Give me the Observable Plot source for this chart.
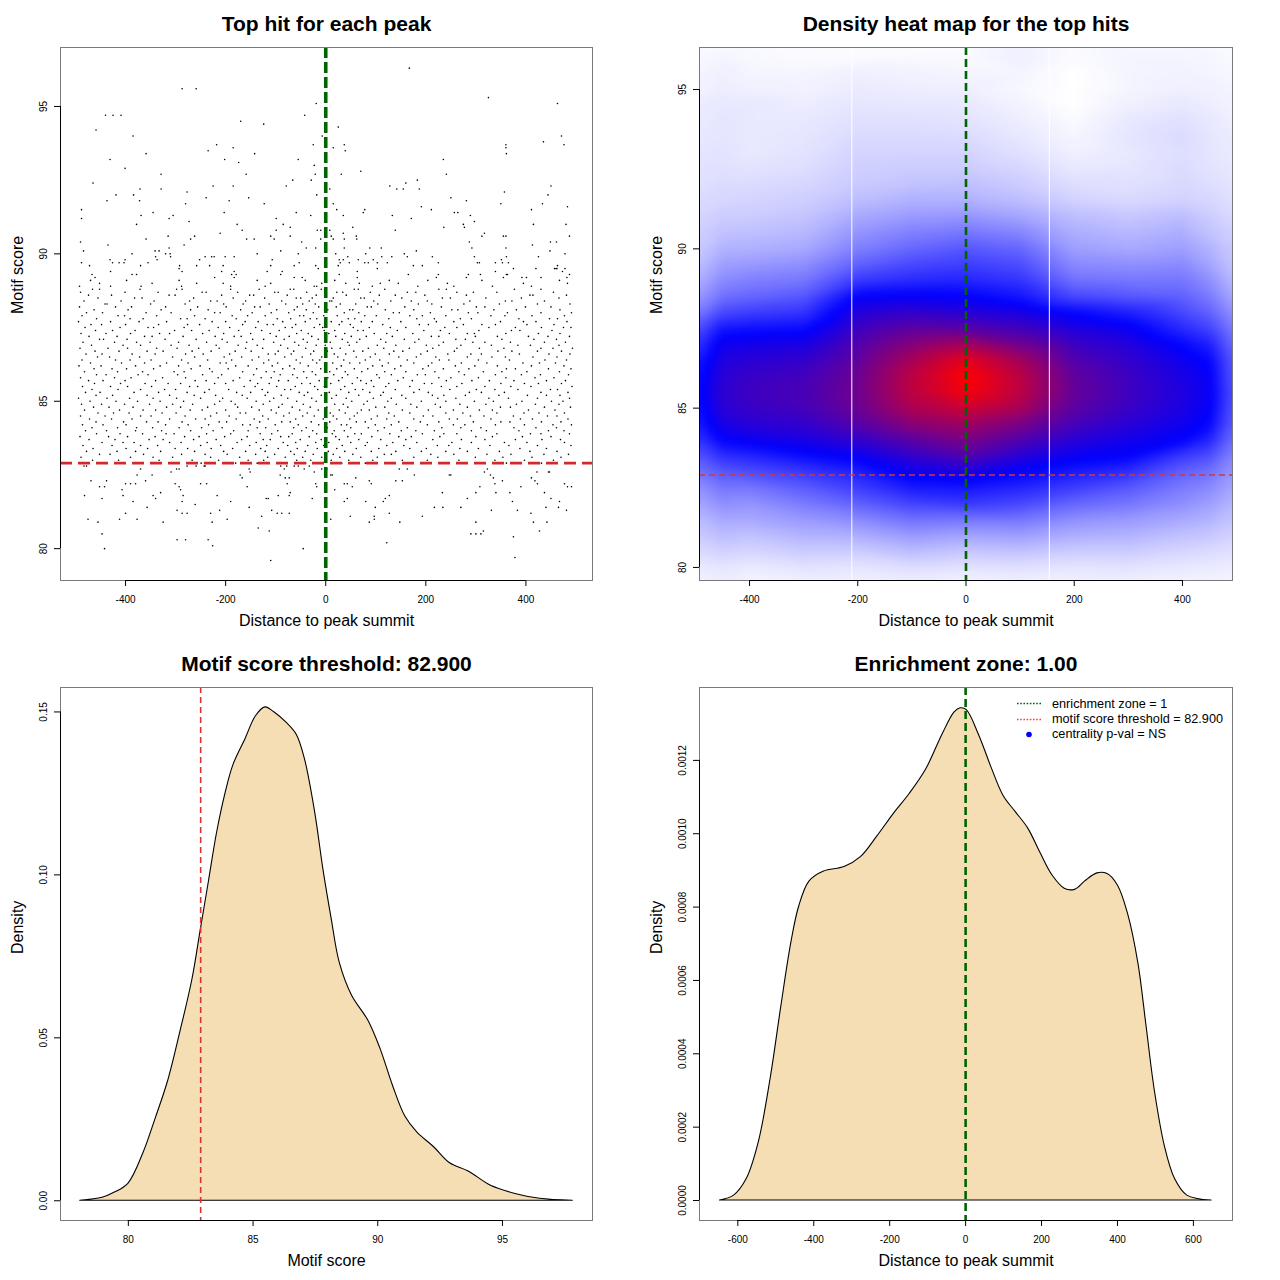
<!DOCTYPE html>
<html><head><meta charset="utf-8">
<script src="https://cdn.jsdelivr.net/npm/d3@7"></script>
<script src="https://cdn.jsdelivr.net/npm/@observablehq/plot@0.6"></script>
<style>
body{margin:0;background:#fff;}
#wrap{position:relative;width:1280px;height:1280px;background:#fff;font-family:"Liberation Sans",Arial,Helvetica,sans-serif;}
#legend{position:absolute;left:1015px;top:696px;font-size:12.7px;color:#000;}
#legend .row{display:flex;align-items:center;height:15.4px;white-space:nowrap;}
#legend svg{flex:none;}
</style></head><body><div id="wrap"><div id="legend"></div></div>
<script>
// ---------- Panel 1: top hit per peak (motif score rows, distances to summit) ----------
const hitScores = [96.3,95.6,95.3,95.1,94.7,94.5,94.4,94.3,94.2,94.0,93.8,93.7,93.6,93.5,93.4,93.2,93.1,93.0,92.9,92.8,92.7,92.5,92.4,92.3,92.2,92.1,92.0,91.9,91.8,91.7,91.6,91.5,91.4,91.3,91.2,91.1,91.0,90.9,90.8,90.7,90.6,90.5,90.4,90.3,90.2,90.1,90.0,89.9,89.8,89.7,89.6,89.5,89.4,89.3,89.2,89.1,89.0,88.9,
88.8,88.7,88.6,88.5,88.4,88.3,88.2,88.1,88.0,87.9,87.8,87.7,87.6,87.5,87.4,87.3,87.2,87.1,87.0,86.9,86.8,86.7,86.6,86.5,86.4,86.3,86.2,86.1,86.0,85.9,85.8,85.7,85.6,85.5,85.4,85.3,85.2,85.1,85.0,84.9,84.8,84.7,84.6,84.5,84.4,84.3,84.2,84.1,84.0,83.9,83.8,83.7,83.6,83.5,83.4,83.3,83.2,83.1,83.0,82.9,
82.8,82.7,82.6,82.5,82.4,82.3,82.2,82.1,82.0,81.9,81.8,81.7,81.6,81.5,81.4,81.3,81.2,81.1,81.0,80.9,80.7,80.6,80.5,80.4,80.3,80.2,80.1,80.0,79.7,79.6];
const hitDistances = [
"167","-287 -259","325","-19 463","-440 -425 -409 -42","-170","-124","25","-459","-385 -7 471","435","-218 -25 37 360 476","-185 15 360","-235 39","-359 -142 361","-431 -202 -55 235","-174","-23","-401","70","-329 -159 -21 31 241","-66 -29 183","-465 160","-225 -185 -79 128 450","-371 -329 8 142 155 187","-277 357","-419 -384 -18 444","-239 -154 250","-437 -372 -193 281","-280 -123 15 350 433","191 483","-488 22 78 211 411","-345 -203 -59 75 257 264","-369 -305 -30 35 133 289","-488 -313 -99 171","-273 297","-378 -177 -85 275 415 480","-71 54 236 277","-167 -99 -17 -10 8 139","-211 35 317","-315 -262 -110 -71 11 61 312 355 360 487","-359 -270 -158 -143 -103 -10 15 37 62","-490 -48 287 449 461","-435 -283 413","-313 -39 -20 37 88 111 292 360","-484 -341 -333 -90 181 448","-387 -320 -311 -137 -55 20 80 157 478","-340 -310 -241 -228 -223 -201 -183 44 112 132 163 213 297 361 425","-431 -401 -337 -252 -107 27 35 65 95 351","-488 -426 -413 -403 -355 -53 29 47 78 85 103 123 225 303 307 339 353 365","-472 -370 -292 -258 -232 -205 -110 -63 -20 25 175 193 463","-293 -15 103 375 420 457 460 462 478","-430 -287 -208 -183 -117 -87 63 339 473","-467 -387 -378 -188 -179 -90 27 165 225 285 309 361 363 487","-461 -222 -183 -63 -47 63 221 281 355 392 401 430 482","-470 -398 -293 -137 -41 18 127 204 312 467","-452 -347 -258 -205 -110 -8 40 67 109 145 243 395 483","-492 -430 -369 -288 -190 -121 -23 -18 93 184 256 333 411",
"-466 -452 -371 -298 -287 -190 -133 -71 -64 -9 57 65 118 226 241 377 430",
"-490 -401 -335 -247 -239 -176 -102 -95 -38 22 34 89 163 180 262 295 342 455",
"-474 -428 -313 -301 -208 -152 -144 -77 -19 -2 41 107 139 198 281 408 414 481",
"-455 -382 -367 -264 -185 -122 -59 -50 -27 15 70 77 152 233 249 320 391 466",
"-483 -409 -343 -272 -230 -217 -160 -88 -33 8 12 96 130 171 203 288 359 372 437",
"-441 -437 -350 -281 -204 -165 -113 -80 -46 -21 29 60 104 185 212 276 347 423 488",
"-492 -420 -388 -320 -256 -199 -142 -131 -57 -14 21 83 91 158 231 301 318 399 450",
"-463 -395 -329 -270 -235 -170 -98 -63 -39 4 48 54 119 176 252 264 336 381 468",
"-478 -446 -359 -309 -222 -211 -147 -109 -74 -25 37 66 135 147 209 285 304 363 430 491",
"-487 -415 -402 -338 -262 -187 -156 -121 -52 -44 -4 23 78 101 168 193 240 330 358 412 477",
"-458 -391 -365 -290 -277 -241 -179 -97 -70 -31 -18 45 58 126 182 217 269 291 386 447 463",
"-494 -430 -373 -318 -227 -200 -161 -135 -86 -41 11 32 71 93 150 221 256 349 395 420 482",
"-469 -448 -400 -334 -276 -252 -166 -117 -105 -60 -12 27 49 114 187 205 275 312 339 402 456",
"-481 -411 -355 -344 -283 -215 -192 -140 -81 -67 -23 -6 55 87 129 160 238 262 326 379 431 475 490",
"-460 -426 -381 -302 -268 -233 -174 -128 -93 -49 -3 18 64 75 143 196 229 306 371 388 452",
"-489 -439 -390 -332 -312 -246 -204 -150 -111 -58 -35 6 38 97 122 174 247 283 297 360 425 468",
"-473 -417 -362 -347 -285 -221 -183 -169 -99 -73 -28 20 51 81 133 211 226 299 343 405 444 487",
"-452 -444 -397 -321 -259 -207 -146 -124 -83 -45 -15 33 68 110 157 186 260 279 352 416 461",
"-485 -422 -378 -351 -294 -238 -197 -158 -104 -62 -37 9 44 62 120 178 235 294 318 369 437 479",
"-468 -405 -370 -309 -273 -219 -175 -137 -90 -54 -19 -1 47 103 140 201 226 270 331 384 409 466",
"-491 -435 -396 -338 -297 -254 -213 -160 -126 -76 -40 12 29 85 116 167 214 262 307 356 430 454 493",
"-461 -413 -357 -325 -267 -229 -181 -149 -95 -64 -24 3 56 74 136 154 203 257 344 372 423 471",
"-479 -447 -387 -341 -280 -245 -192 -115 -101 -69 -30 17 40 99 127 190 244 290 311 387 446 488",
"-456 -432 -372 -306 -262 -203 -168 -134 -82 -47 -8 24 61 89 146 181 220 283 332 359 414 462",
"-487 -420 -391 -349 -288 -236 -188 -147 -114 -59 -26 -12 36 79 108 163 227 246 305 367 438 481",
"-470 -408 -362 -318 -275 -211 -199 -124 -96 -51 -18 14 48 68 125 176 212 271 322 394 427 459",
"-493 -449 -380 -331 -294 -251 -180 -155 -107 -72 -35 1 31 94 113 150 205 259 298 343 411 476",
"-463 -427 -398 -344 -269 -232 -195 -138 -86 -63 -10 22 57 84 138 194 235 286 361 379 445 490",
"-482 -416 -366 -303 -283 -227 -166 -119 -103 -44 -27 8 39 72 118 160 218 266 315 352 402 467",
"-458 -439 -375 -355 -296 -246 -208 -144 -91 -66 -20 16 44 102 131 183 199 277 339 391 429 485",
"-490 -422 -389 -326 -280 -215 -172 -129 -109 -57 -38 4 33 63 107 155 226 250 305 360 418 456",
"-474 -445 -401 -340 -261 -239 -185 -151 -94 -75 -13 26 70 91 144 173 241 292 327 376 441 479",
"-462 -410 -361 -315 -290 -222 -200 -136 -113 -48 -31 10 53 81 126 197 212 272 350 397 425 471",
"-486 -430 -396 -348 -272 -256 -163 -141 -98 -61 -22 -3 38 96 120 168 231 262 318 370 410 492",
"-467 -415 -370 -322 -300 -233 -194 -127 -82 -70 -16 30 59 74 139 187 248 301 338 384 449 463",
"-480 -451 -383 -334 -277 -242 -178 -150 -116 -53 -36 7 46 88 115 176 205 287 311 357 430 484",
"-459 -426 -357 -312 -263 -220 -167 -121 -89 -43 -9 21 66 110 152 213 236 279 346 403 441 468",
"-494 -437 -392 -345 -298 -250 -206 -157 -104 -76 -28 12 41 95 131 160 224 260 326 365 423 487",
"-471 -419 -376 -331 -284 -212 -189 -139 -112 -58 -19 -2 52 83 124 191 240 297 335 392 451 474",
"-488 -448 -402 -352 -306 -266 -222 -181 -125 -87 -45 18 35 76 141 170 219 268 320 381 419 466",
"-464 -433 -385 -318 -290 -236 -176 -148 -94 -67 -31 2 44 100 118 182 229 283 349 369 437 489",
"-482 -412 -365 -340 -271 -247 -200 -133 -109 -52 -15 27 71 87 153 205 255 307 333 405 458",
"-455 -424 -393 -327 -299 -218 -171 -160 -99 -73 -37 9 39 63 126 168 240 274 342 396 426 477",
"-490 -441 -370 -349 -281 -230 -193 -126 -84 -46 -23 15 57 103 137 195 214 289 316 375 443 462",
"-472 -428 -387 -312 -260 -241 -179 -143 -115 -60 -5 22 48 91 122 176 247 263 330 389 413 484",
"-459 -404 -358 -335 -287 -213 -198 -132 -88 -71 -29 8 61 79 146 189 226 295 350 368 431 470",
"-486 -445 -399 -320 -275 -234 -166 -151 -101 -55 -14 31 42 99 131 203 255 278 339 397 454 491",
"-467 -416 -378 -346 -293 -248 -207 -137 -120 -64 -39 3 50 85 117 163 232 270 310 376 420 461",
"-480 -438 -380 -328 -270 -225 -184 -155 -96 -48 -26 17 37 104 151 180 217 291 321 386 445 476",
"-458 -411 -366 -319 -303 -238 -190 -131 -108 -67 -18 13 58 71 128 193 236 262 342 409 430 487",
"-491 -434 -396 -341 -282 -253 -202 -157 -90 -74 -33 20 44 92 146 171 228 300 333 393 450",
"-473 -421 -353 -325 -264 -219 -168 -125 -111 -51 -9 27 66 110 160 214 271 318 379 432 469",
"-447 -405 -383 -312 -289 -237 -177 -139 -85 -60 -20 6 50 83 134 182 252 291 357 402 477",
"-485 -427 -370 -336 -250 -210 -152 -118 -76 -36 -4 33 79 122 156 223 246 328 366 423 490",
"-465 -399 -356 -301 -276 -229 -186 -130 -95 -57 -17 22 61 106 168 201 268 305 388 441",
"-478 -417 -380 -330 -262 -204 -160 -121 -70 -41 5 38 91 140 191 240 283 347 408 462",
"-452 -431 -364 -288 -241 -197 -140 -102 -63 -25 15 54 117 131 210 256 322 370 436 485",
"-489 -390 -345 -306 -230 -172 -116 -81 -46 -8 28 70 103 176 224 299 354 412 470",
"-466 -414 -333 -267 -214 -155 -124 -58 -30 11 46 94 153 203 266 338 397 455",
"-476 -384 -311 -249 -180 -137 -92 -40 -17 32 79 160 229 280 361 431 488",
"-483 -478 -277 -259 -243 -241 -90 -78 -63 -55 -33","-370 -298 -293 -153 -83 -43 -8 2 147 163 323","-309 -151 -23 317 422 445 447","-377 -347 -171 -91 10 13 177 247 250 329","-167 -81 -73 60 335 411","-469 -438 -360 87 140 153 353 418","-400 -390 -380 -301 -250 -238 -77 -20 37 43 91 338 423 477","-452 -442 -293 -157 -18 53 308 390 483 491","-407 -290 18","-330 -71 233 300 340 368 437","-482 -405 -345 -285 -217 -95 -73 127","-447 -340 -119 -115 -27 43 119 283 450","-385 -287 -190 37 80 115 373 467","-261","-357 -153 99 217 234 270 440 465","-297 -212 -108 331 383 481","-400 -287 -277 -230 -97 -88 -73 127 410","-128 49 97 193","-475 -412 -377 -197 10 97","-455 -325 -227 87 148 300 415 442","-135","-113 315 427","-447 290 300 310","375","-297 -280 -235","122","-226","-442 -45","378","-110"];

const scoreThreshold = 82.9;
const enrichmentCenter = 0;

// ---------- Panel 2: density heat map levels (0 = white, 0.5 = blue, 1 = red) ----------
const heatX = [-500,-450,-400,-300,-200,-100,0,100,200,300,400,450,500];
const heatY = [96.5,96,95.5,95,94.5,94,93.5,93,92.5,92,91.5,91,90.5,90,89.5,89,88.5,88,87.5,87,86.5,86,85.5,85,84.5,84,83.5,83,82.5,82,81.5,81,80.5,80,79.5];
const heatLevel = [
[.01,.01,.01,.005,.003,.006,.008,.025,.01,.015,.015,.012,.01],
[.015,.02,.015,.01,.01,.012,.012,.03,.008,.02,.02,.018,.012],
[.02,.03,.02,.02,.03,.025,.02,.02,0,.02,.025,.022,.015],
[.025,.035,.03,.025,.04,.035,.032,.015,0,.02,.03,.028,.02],
[.035,.045,.045,.035,.05,.047,.045,.025,0,.03,.045,.035,.025],
[.04,.05,.045,.045,.06,.06,.055,.035,.01,.045,.06,.045,.03],
[.045,.05,.045,.05,.072,.072,.07,.045,.02,.05,.07,.05,.035],
[.05,.055,.045,.055,.085,.085,.085,.06,.03,.045,.065,.05,.04],
[.055,.06,.055,.065,.095,.1,.1,.08,.045,.05,.07,.055,.045],
[.06,.07,.07,.08,.105,.12,.125,.1,.065,.06,.075,.065,.05],
[.07,.08,.085,.095,.13,.155,.155,.13,.09,.075,.09,.08,.06],
[.08,.1,.1,.115,.17,.2,.21,.18,.13,.11,.13,.1,.07],
[.09,.12,.125,.14,.21,.25,.27,.24,.16,.14,.16,.12,.085],
[.1,.15,.155,.17,.25,.3,.33,.3,.19,.17,.19,.15,.1],
[.12,.19,.2,.22,.31,.36,.38,.35,.23,.22,.23,.18,.11],
[.15,.23,.25,.27,.39,.42,.43,.4,.28,.27,.27,.22,.13],
[.19,.28,.3,.33,.5,.51,.5,.46,.36,.33,.31,.26,.16],
[.25,.36,.38,.4,.57,.6,.58,.55,.49,.44,.36,.31,.2],
[.33,.46,.47,.48,.62,.68,.67,.63,.56,.52,.42,.37,.24],
[.39,.53,.54,.55,.66,.76,.82,.72,.62,.57,.49,.44,.27],
[.44,.56,.58,.6,.69,.83,.95,.82,.66,.6,.53,.49,.3],
[.46,.58,.61,.63,.715,.87,1,.87,.69,.62,.55,.51,.31],
[.47,.59,.62,.645,.72,.87,.98,.87,.7,.625,.56,.515,.32],
[.46,.58,.61,.635,.71,.84,.9,.83,.68,.615,.555,.51,.31],
[.44,.55,.58,.6,.67,.77,.81,.74,.64,.58,.53,.49,.3],
[.39,.5,.52,.55,.6,.68,.74,.66,.58,.54,.5,.43,.27],
[.33,.41,.43,.48,.52,.6,.66,.58,.52,.5,.39,.35,.23],
[.27,.33,.35,.39,.44,.53,.56,.5,.45,.41,.31,.28,.2],
[.21,.27,.27,.32,.38,.45,.46,.43,.38,.33,.26,.23,.17],
[.17,.22,.21,.26,.31,.37,.39,.36,.3,.27,.22,.19,.14],
[.13,.17,.17,.2,.23,.28,.27,.27,.22,.2,.17,.15,.11],
[.1,.13,.12,.15,.16,.2,.18,.19,.16,.15,.12,.11,.085],
[.07,.09,.08,.1,.1,.13,.11,.12,.1,.1,.08,.07,.06],
[.04,.05,.04,.055,.05,.065,.055,.06,.05,.055,.045,.04,.035],
[.02,.03,.02,.025,.025,.03,.02,.025,.025,.025,.02,.02,.015]];
const heatGaps = [-211, 154];

// ---------- Panel 3: motif score density ----------
const scoreGrid = [78.07,78.97,79.46,80.0,80.6,81.1,81.59,82.08,82.57,82.9,83.23,83.56,83.89,84.21,84.7,85.11,85.49,85.85,86.34,86.75,87.08,87.49,87.82,88.15,88.48,88.97,89.62,90.11,90.61,91.1,91.59,92.25,92.9,93.64,94.54,95.52,96.51,97.82];
const scoreDensity = [0,0.0009,0.0025,0.0052,0.0145,0.0253,0.0366,0.0516,0.0679,0.0829,0.0979,0.113,0.1248,0.1336,0.1417,0.1486,0.1514,0.1499,0.1467,0.143,0.1355,0.1192,0.1017,0.0866,0.0729,0.0629,0.0553,0.0466,0.0353,0.0259,0.0209,0.0165,0.0115,0.009,0.0046,0.0021,0.0006,0];

// ---------- Panel 4: distance density ----------
const distGrid = [-647,-610,-577,-545,-513,-486,-459,-438,-411,-373,-319,-276,-233,-190,-147,-104,-61,-29,-13,3,35,68,100,132,165,197,229,261,288,315,347,374,401,428,455,476,498,525,552,584,648];
const distDensity = [0,0.0000133,0.0000578,0.000158,0.000336,0.000525,0.000703,0.000803,0.00087,0.000897,0.000909,0.000936,0.000992,0.001053,0.001109,0.001175,0.00127,0.001331,0.001342,0.001337,0.00127,0.001181,0.001103,0.001059,0.001014,0.000948,0.000886,0.00085,0.000847,0.00087,0.000892,0.00089,0.000859,0.000781,0.000647,0.00048,0.000302,0.000147,0.0000578,0.0000133,0];

const legendLabels = ["enrichment zone = 1","motif score threshold = 82.900","centrality p-val = NS"];
const legendColors = ["#006400","#ff3a3a","#0000ff"];

// ---------- tick values ----------
const distTicks = [-400,-200,0,200,400];
const scoreTicks = [80,85,90,95];
const scoreDensTicks = [0,0.05,0.10,0.15];
const distWideTicks = [-600,-400,-200,0,200,400,600];
const distDensTicks = [0,0.0002,0.0004,0.0006,0.0008,0.0010,0.0012];

// ---------- build tables ----------
const hits = hitScores.flatMap((s, i) => hitDistances[i].split(" ").filter(Boolean).map(d => ({x: +d, y: s})));
const heatCells = heatY.flatMap((y, i) => heatX.map((x, j) => ({x, y, t: heatLevel[i][j]})));
const scoreCurve = scoreGrid.map((x, i) => ({x, y: scoreDensity[i]}));
const distCurve = distGrid.map((x, i) => ({x, y: distDensity[i]}));

const wrap = document.getElementById("wrap");
const FONT = '"Liberation Sans", Arial, Helvetica, sans-serif';
const fmtInt = d => String(d);

function addPanel(o) {
  const marks = [
    ...o.marks,
    Plot.frame({stroke: "#7a7a7a", strokeWidth: 1}),
    Plot.ruleY([o.yDomain[0]], {x1: d3.min(o.xTicks), x2: d3.max(o.xTicks), stroke: "#000", strokeWidth: 1}),
    Plot.ruleX([o.xDomain[0]], {y1: d3.min(o.yTicks), y2: d3.max(o.yTicks), stroke: "#000", strokeWidth: 1}),
    Plot.axisX(o.xTicks, {anchor: "bottom", tickSize: 6, tickPadding: 9, tickFormat: o.xFmt, label: null, fontSize: 10}),
    Plot.axisY(o.yTicks, {anchor: "left", tickSize: 6, tickPadding: 8, tickRotate: -90, tickFormat: o.yFmt, label: null, fontSize: 10}),
    Plot.text([o.title], {text: d => d, frameAnchor: "top", dy: -23, fontSize: 21, fontWeight: "bold", lineAnchor: "middle"}),
    Plot.text([o.xLabel], {text: d => d, frameAnchor: "bottom", dy: 40, fontSize: 16, lineAnchor: "middle"}),
    Plot.text([o.yLabel], {text: d => d, frameAnchor: "left", dx: -43, rotate: -90, fontSize: 16, lineAnchor: "middle"})
  ];
  const svg = Plot.plot({
    width: 640, height: 640,
    marginLeft: o.mL, marginRight: o.mR, marginTop: 47, marginBottom: 60,
    style: {fontFamily: FONT, fontSize: "10px", background: "transparent", color: "#000", overflow: "visible"},
    x: {domain: o.xDomain, label: null},
    y: {domain: o.yDomain, label: null},
    color: o.color,
    marks
  });
  svg.style.position = "absolute";
  svg.style.left = o.left + "px";
  svg.style.top = o.top + "px";
  wrap.appendChild(svg);
}

// Panel 1
addPanel({
  left: 0, top: 0, mL: 60, mR: 48,
  xDomain: [-530, 533], yDomain: [78.92, 97.0],
  xTicks: distTicks, yTicks: scoreTicks, xFmt: fmtInt, yFmt: fmtInt,
  title: "Top hit for each peak", xLabel: "Distance to peak summit", yLabel: "Motif score",
  marks: [
    Plot.dot(hits, {x: "x", y: "y", r: 0.8, fill: "#000"}),
    Plot.ruleY([scoreThreshold], {stroke: "#d02a2a", strokeWidth: 2.6, strokeDasharray: "12,6"}),
    Plot.ruleX([enrichmentCenter], {stroke: "#006400", strokeWidth: 3.6, strokeDasharray: "11,4"})
  ]
});

// Panel 2
const hx = [-492.5, 492.5], hy = [79.59, 96.32];
addPanel({
  left: 640, top: 0, mL: 59, mR: 48,
  xDomain: hx, yDomain: hy,
  xTicks: distTicks, yTicks: scoreTicks, xFmt: fmtInt, yFmt: fmtInt,
  title: "Density heat map for the top hits", xLabel: "Distance to peak summit", yLabel: "Motif score",
  color: {type: "linear", domain: [0, 0.5, 1], range: ["#ffffff", "#0000ff", "#ff0000"], interpolate: "rgb"},
  marks: [
    Plot.raster(heatCells, {x: "x", y: "y", fill: "t", interpolate: "barycentric", blur: 3, x1: hx[0], x2: hx[1], y1: hy[0], y2: hy[1]}),
    Plot.ruleX(heatGaps, {stroke: "#ffffff", strokeWidth: 1}),
    Plot.ruleY([scoreThreshold], {stroke: "#d03a3a", strokeWidth: 1.5, strokeDasharray: "6,4"}),
    Plot.ruleX([enrichmentCenter], {stroke: "#006400", strokeWidth: 2.6, strokeDasharray: "8,4"})
  ]
});

// Panel 3
addPanel({
  left: 0, top: 640, mL: 60, mR: 48,
  xDomain: [77.28, 98.61], yDomain: [-0.00606, 0.1575],
  xTicks: scoreTicks, yTicks: scoreDensTicks, xFmt: fmtInt, yFmt: d => d.toFixed(2),
  title: "Motif score threshold: 82.900", xLabel: "Motif score", yLabel: "Density",
  marks: [
    Plot.areaY(scoreCurve, {x: "x", y: "y", fill: "#f5deb3", stroke: "#000", strokeWidth: 1.1, curve: "catmull-rom"}),
    Plot.ruleX([scoreThreshold], {stroke: "#dd3030", strokeWidth: 1.6, strokeDasharray: "6,4"})
  ]
});

// Panel 4
addPanel({
  left: 640, top: 640, mL: 59, mR: 48,
  xDomain: [-701, 703], yDomain: [-0.0000545, 0.0013987],
  xTicks: distWideTicks, yTicks: distDensTicks, xFmt: fmtInt, yFmt: d => d.toFixed(4),
  title: "Enrichment zone: 1.00", xLabel: "Distance to peak summit", yLabel: "Density",
  marks: [
    Plot.areaY(distCurve, {x: "x", y: "y", fill: "#f5deb3", stroke: "#000", strokeWidth: 1.1, curve: "catmull-rom"}),
    Plot.ruleX([enrichmentCenter], {stroke: "#006400", strokeWidth: 2.6, strokeDasharray: "8,4"})
  ]
});

// Legend (bottom-right panel)
const legend = document.getElementById("legend");
legendLabels.forEach((lab, i) => {
  const row = document.createElement("div");
  row.className = "row";
  const sample = i < 2
    ? `<line x1="2" x2="27" y1="7.5" y2="7.5" stroke="${legendColors[i]}" stroke-width="1.6" stroke-dasharray="1.6 1.6"/>`
    : `<circle cx="14" cy="7.5" r="2.8" fill="${legendColors[i]}"/>`;
  row.innerHTML = `<svg width="37" height="15">${sample}</svg><span>${lab}</span>`;
  legend.appendChild(row);
});
wrap.appendChild(legend);
</script></body></html>
